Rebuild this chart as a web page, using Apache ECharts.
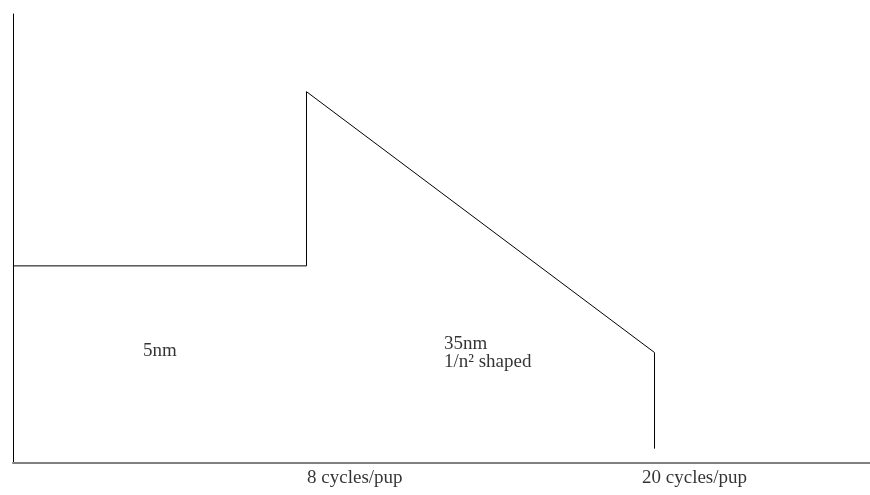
<!DOCTYPE html>
<html>
<head>
<meta charset="utf-8">
<script src="https://cdn.jsdelivr.net/npm/echarts@6/dist/echarts.min.js"></script>
<style>
  html, body { margin: 0; padding: 0; background: #fff; }
  #chart { width: 870px; height: 495px; }
</style>
</head>
<body>
<div id="chart"></div>
<script>
// Profile: flat 5nm level, jump at 8 cycles/pup, 1/n^2 ramp down to 20 cycles/pup
var profileX = [-2.12, 8, 8, 20, 20];
var profileY = [43.9, 43.9, 82.7, 24.6, 3.2];

// Text annotations and their anchor points (left edge, vertical middle)
var noteText = ['5nm', '35nm\n1/n\u00B2 shaped', '8 cycles/pup', '20 cycles/pup'];
var noteX = [2.36, 12.74, 8.02, 19.57];
var noteY = [24.9, 24.6, -3.34, -3.34];

var xMin = -2.12, xMax = 27.43;
var yMin = 0, yMax = 100;

var chart = echarts.init(document.getElementById('chart'), null, { renderer: 'canvas' });

var profileData = profileX.map(function (x, i) { return [x, profileY[i]]; });
var noteData = noteX.map(function (x, i) { return { value: [x, noteY[i]], name: noteText[i] }; });

chart.setOption({
  animation: false,
  backgroundColor: '#ffffff',
  grid: { left: 13, right: 0, top: 14, bottom: 32, containLabel: false },
  xAxis: {
    type: 'value', min: xMin, max: xMax,
    axisLine: { show: true, lineStyle: { color: '#808080', width: 2 } },
    axisTick: { show: false }, axisLabel: { show: false }, splitLine: { show: false }
  },
  yAxis: {
    type: 'value', min: yMin, max: yMax,
    axisLine: { show: true, onZero: false, lineStyle: { color: '#000000', width: 1 } },
    axisTick: { show: false }, axisLabel: { show: false }, splitLine: { show: false }
  },
  series: [
    {
      type: 'line',
      data: profileData,
      symbol: 'none',
      lineStyle: { color: '#000000', width: 1 },
      clip: false,
      z: 3
    },
    {
      type: 'scatter',
      data: noteData,
      symbolSize: 0,
      clip: false,
      silent: true,
      label: {
        show: true,
        position: 'inside',
        align: 'left',
        verticalAlign: 'middle',
        formatter: function (p) { return p.name; },
        color: '#000000',
        fontFamily: 'Liberation Serif',
        fontSize: 19,
        lineHeight: 18
      }
    }
  ]
});
</script>
</body>
</html>
